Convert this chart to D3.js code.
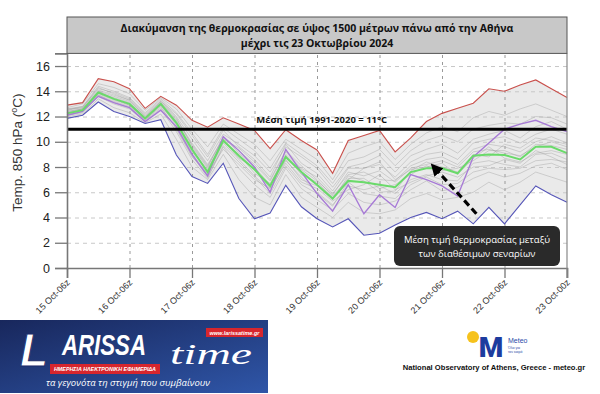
<!DOCTYPE html>
<html>
<head>
<meta charset="utf-8">
<script src="https://cdnjs.cloudflare.com/ajax/libs/d3/7.8.5/d3.min.js"></script>
<style>
body { margin: 0; background: #fff; }
svg { display: block; font-family: "Liberation Sans", Arial, sans-serif; }
</style>
</head>
<body>
<div id="chart"></div>
<script>
// 6-hourly steps, 15 Oct 06z .. 23 Oct 00z
var xLabels = ["15 Oct-06z", "16 Oct-06z", "17 Oct-06z", "18 Oct-06z", "19 Oct-06z",
               "20 Oct-06z", "21 Oct-06z", "22 Oct-06z", "23 Oct-00z"];
var xTicks = [0, 4, 8, 12, 16, 20, 24, 28, 32];
var yTicks = [0, 2, 4, 6, 8, 10, 12, 14, 16];

var maxTemp  = [12.9,13.1,15.0,14.75,14.2,12.65,13.6,12.9,11.7,11.15,11.9,11.4,10.9,9.45,10.95,10.1,9.35,7.5,10.1,10.5,10.9,9.2,10.3,11.6,12.25,12.65,13.05,14.2,14.0,14.5,14.9,14.2,13.5];
var minTemp  = [11.85,12.1,13.15,12.4,12.0,11.45,11.75,8.95,7.25,6.7,8.3,5.5,3.9,4.35,6.55,4.85,3.9,3.25,3.9,2.6,2.75,3.4,4.0,4.4,3.9,4.5,3.5,4.8,3.5,5.0,6.5,5.8,5.2];
var meanTemp = [12.25,12.5,13.9,13.4,13.0,11.85,13.0,11.5,9.4,7.6,10.1,8.9,7.8,6.5,8.8,7.6,6.6,5.5,6.9,6.8,6.6,6.4,7.6,7.9,7.9,7.5,8.9,9.0,8.95,8.6,9.6,9.6,9.1];
var mainRun  = [12.1,12.4,13.6,13.1,12.7,11.6,12.5,11.2,9.0,7.3,10.4,9.3,8.0,6.0,9.4,7.6,5.9,4.5,6.6,4.3,5.8,4.8,7.4,7.0,6.5,5.7,8.8,9.9,11.0,11.4,11.7,11.2,10.8];

var members = [
  [12.5,12.8,14.2,13.9,13.4,12.2,13.3,12.0,10.2,8.5,10.6,9.8,8.9,7.6,9.6,8.8,7.9,6.4,8.0,8.3,8.9,7.6,8.9,9.4,9.8,9.1,10.2,10.6,10.9,10.3,11.2,11.6,11.0],
  [12.1,12.3,13.6,13.0,12.6,11.6,12.6,10.8,8.6,7.1,9.6,7.9,6.6,5.6,7.9,6.3,5.4,4.6,5.9,5.2,5.0,5.3,6.2,6.9,6.1,6.4,7.1,7.6,7.2,7.5,8.1,8.3,7.8],
  [12.4,12.6,14.0,13.6,13.2,12.0,13.1,11.8,9.9,8.2,10.3,9.3,8.2,6.9,9.2,7.9,7.2,5.9,7.4,7.6,7.0,6.9,8.1,8.6,8.8,8.2,9.4,9.8,9.6,9.2,10.0,10.4,9.9],
  [12.2,12.4,13.8,13.3,12.9,11.7,12.9,11.3,9.1,7.4,9.9,8.6,7.3,6.1,8.5,7.2,6.0,5.0,6.5,6.2,6.5,5.9,7.0,7.4,7.0,6.9,8.3,8.5,8.2,8.0,9.0,9.1,8.6],
  [12.7,13.0,14.6,14.3,13.8,12.5,13.5,12.6,11.0,9.6,11.4,10.6,9.8,8.5,10.2,9.4,8.6,7.0,9.1,9.6,10.0,8.6,9.8,10.7,11.2,10.8,11.9,12.4,12.1,12.6,13.0,12.5,12.0],
  [12.3,12.5,13.9,13.5,13.1,11.9,13.0,11.6,9.6,7.9,10.0,9.0,7.5,6.7,8.9,7.4,6.8,5.6,7.1,7.1,6.3,6.6,7.4,8.1,7.7,7.9,8.5,9.3,9.3,8.8,9.8,9.7,9.4],
  [12.0,12.2,13.4,12.7,12.3,11.5,12.2,10.2,8.0,7.0,9.0,7.0,5.6,5.0,7.4,5.6,4.8,4.0,5.2,4.4,4.3,4.6,5.5,5.9,5.4,5.6,6.0,6.8,6.2,6.8,7.6,7.2,6.8],
  [12.6,12.7,14.3,13.8,13.3,12.1,13.2,12.2,10.5,8.8,10.9,9.6,8.6,7.2,9.8,8.3,7.5,6.1,7.9,7.9,8.2,7.2,8.4,9.0,9.2,8.6,9.9,10.2,10.4,9.9,10.6,11.0,10.6],
  [12.2,12.5,13.7,13.2,12.8,11.8,12.8,11.0,8.8,7.5,9.4,8.2,7.0,6.3,8.3,6.8,6.3,5.3,6.2,6.6,7.4,6.2,6.8,7.3,7.6,7.2,8.0,8.1,8.6,8.3,9.3,8.8,8.2],
  [12.5,12.7,14.1,13.7,13.3,12.0,13.2,11.9,9.7,8.0,10.4,9.1,8.0,6.6,9.0,7.8,6.9,5.8,7.6,7.3,7.7,6.8,7.9,8.2,8.5,8.0,9.2,9.4,9.1,8.9,9.6,10.0,9.6],
  [12.4,12.6,13.9,13.4,13.0,11.9,12.9,11.4,9.2,7.8,10.1,8.7,7.9,6.3,8.6,7.0,6.5,5.4,7.3,6.9,6.0,6.1,7.7,8.4,8.0,7.6,9.0,8.8,9.8,9.5,10.3,10.1,9.8],
  [12.3,12.6,14.0,13.4,12.9,11.8,13.1,11.7,9.8,8.1,10.2,9.5,8.4,7.0,9.3,8.1,7.0,5.7,7.0,7.9,8.4,7.0,7.8,8.0,8.3,7.4,8.7,9.6,8.7,8.4,9.1,9.3,9.0],
  [12.1,12.4,13.7,13.1,12.7,11.7,12.7,11.1,8.9,7.2,9.7,8.4,7.2,5.9,8.1,6.6,5.9,4.9,6.8,5.9,5.7,5.5,6.6,7.2,6.6,6.7,7.6,7.9,7.8,7.9,8.5,8.6,8.4],
  [12.6,12.8,14.4,14.0,13.5,12.3,13.4,12.3,10.7,9.0,11.1,10.2,9.3,7.9,9.9,9.0,8.1,6.7,8.5,8.8,9.4,8.1,9.3,10.1,10.5,10.0,11.0,11.3,11.5,11.4,12.0,11.9,11.4]
];

var climateMean = 11;
var arrowFrom = [26.2, 4.3];   // data units: tail (box top) and tip (near mean line)
var arrowTo   = [23.7, 7.7];

var width  = 600;
var height = 394;
var margin = { top: 53.4, bottom: 126, left: 67, right: 33 };
var plotW = width - margin.left - margin.right;
var plotH = height - margin.top - margin.bottom;

var svg = d3.select('#chart')
    .append('svg')
        .attr('width', width)
        .attr('height', height);

var defs = svg.append('defs');

var g = svg.append('g')
    .attr('transform', 'translate(' + margin.left + ',' + margin.top + ')');

var xScale = d3.scaleLinear()
    .domain([0, maxTemp.length - 1])
    .range([0, plotW]);

var yScale = d3.scaleLinear()
    .domain([0, 17])
    .range([plotH, 0]);

var idx = d3.range(maxTemp.length);

// spread between coldest and warmest scenario
g.append('path')
    .datum(idx)
    .attr('fill', '#e6e6e6')
    .attr('fill-opacity', 0.85)
    .attr('d', d3.area()
        .x(function(i){ return xScale(i); })
        .y0(function(i){ return yScale(minTemp[i]); })
        .y1(function(i){ return yScale(maxTemp[i]); })
    );

// grid
g.append('g')
    .attr('class', 'grid')
    .call(d3.axisLeft(yScale).tickValues(yTicks.slice(1)).tickSize(-plotW).tickFormat(''))
    .call(function(s){
        s.select('.domain').remove();
        s.selectAll('line').attr('stroke', '#c8c8c8').attr('stroke-dasharray', '4,4');
    });

g.append('g')
    .attr('class', 'grid')
    .attr('transform', 'translate(0,' + plotH + ')')
    .call(d3.axisBottom(xScale).tickValues(xTicks.slice(1, -1)).tickSize(-plotH).tickFormat(''))
    .call(function(s){
        s.select('.domain').remove();
        s.selectAll('line').attr('stroke', '#9a9a9a').attr('stroke-dasharray', '3,4');
    });

var line = d3.line()
    .x(function(d, i){ return xScale(i); })
    .y(function(d){ return yScale(d); });

// ensemble members
g.selectAll('.member')
    .data(members)
    .enter()
    .append('path')
        .attr('class', 'member')
        .attr('fill', 'none')
        .attr('stroke', '#9b9b9b')
        .attr('stroke-opacity', 0.65)
        .attr('stroke-width', 0.6)
        .attr('d', line);

g.append('path').datum(maxTemp)
    .attr('fill', 'none').attr('stroke', '#c9504c').attr('stroke-width', 1.1).attr('d', line);
g.append('path').datum(minTemp)
    .attr('fill', 'none').attr('stroke', '#5656b8').attr('stroke-width', 1.1).attr('d', line);
g.append('path').datum(mainRun)
    .attr('fill', 'none').attr('stroke', '#a77ad6').attr('stroke-width', 1.3).attr('d', line);
g.append('path').datum(meanTemp)
    .attr('fill', 'none').attr('stroke', '#6ada6a').attr('stroke-width', 2).attr('d', line);

// 1991-2020 climatology
g.append('line')
    .attr('x1', 0).attr('x2', plotW)
    .attr('y1', yScale(climateMean)).attr('y2', yScale(climateMean))
    .attr('stroke', '#000').attr('stroke-width', 3);

g.append('text')
    .attr('x', xScale(16.3))
    .attr('y', yScale(climateMean) - 6)
    .attr('text-anchor', 'middle')
    .style('font-family', '"Open Sans", sans-serif')
    .style('font-weight', 'bold')
    .style('font-size', '9.5px')
    .attr('fill', '#111')
    .text('Μέση τιμή 1991-2020 = 11°C');

// axes
var yAxis = d3.axisLeft(yScale).tickValues(yTicks).tickSize(12).tickPadding(5);
g.append('g')
    .attr('class', 'y axis')
    .call(yAxis)
    .call(function(s){
        s.select('.domain').attr('stroke', '#777').attr('stroke-width', 1.6);
        s.selectAll('line').attr('stroke', '#777').attr('stroke-width', 1.3);
        s.selectAll('text').style('font-size', '12.5px').attr('fill', '#222');
    });

var xAxis = d3.axisBottom(xScale).tickValues(xTicks).tickSize(10)
    .tickFormat(function(d, i){ return xLabels[i]; });
g.append('g')
    .attr('class', 'x axis')
    .attr('transform', 'translate(0,' + plotH + ')')
    .call(xAxis)
    .call(function(s){
        s.select('.domain').attr('stroke', '#777').attr('stroke-width', 1.6);
        s.selectAll('line').attr('stroke', '#777').attr('stroke-width', 1.3);
        s.selectAll('text')
            .attr('y', 0).attr('dy', 0)
            .attr('text-anchor', 'end')
            .attr('transform', 'translate(3,15) rotate(-45)')
            .style('font-size', '9px')
            .attr('fill', '#333');
    });

// right frame
g.append('line')
    .attr('x1', plotW).attr('x2', plotW).attr('y1', 0).attr('y2', plotH + 10)
    .attr('stroke', '#888').attr('stroke-width', 1.2);

// y axis label
svg.append('text')
    .attr('transform', 'translate(22,' + (margin.top + plotH / 2 - 8) + ') rotate(-90)')
    .attr('text-anchor', 'middle')
    .style('font-size', '13.5px')
    .attr('fill', '#333')
    .text('Temp. 850 hPa (')
    .append('tspan').attr('dy', -5).style('font-size', '9px').text('o')
    .select(function(){ return this.parentNode; })
    .append('tspan').attr('dy', 5).text('C)');

// title box
svg.append('rect')
    .attr('x', margin.left).attr('y', 17)
    .attr('width', plotW).attr('height', margin.top - 17)
    .attr('fill', '#c8c8c8')
    .attr('stroke', '#555').attr('stroke-width', 1);

var title = svg.append('text')
    .attr('x', margin.left + plotW / 2)
    .attr('text-anchor', 'middle')
    .style('font-family', '"Open Sans", sans-serif')
    .style('font-weight', 'bold')
    .style('font-size', '10.5px')
    .attr('fill', '#111');
title.append('tspan').attr('x', margin.left + plotW / 2).attr('y', 32)
    .text('Διακύμανση της θερμοκρασίας σε ύψος 1500 μέτρων πάνω από την Αθήνα');
title.append('tspan').attr('x', margin.left + plotW / 2).attr('y', 47)
    .text('μέχρι τις 23 Οκτωβρίου 2024');

// annotation box + arrow
var boxX = 394, boxY = 226, boxW = 166, boxH = 40;
svg.append('rect')
    .attr('x', boxX).attr('y', boxY).attr('width', boxW).attr('height', boxH)
    .attr('rx', 6)
    .attr('fill', '#2a2a2a');
var note = svg.append('text')
    .attr('text-anchor', 'middle')
    .style('font-family', '"Open Sans", sans-serif')
    .style('font-size', '9.5px')
    .attr('fill', '#fff');
note.append('tspan').attr('x', boxX + boxW / 2).attr('y', boxY + 17).text('Μέση τιμή θερμοκρασίας μεταξύ');
note.append('tspan').attr('x', boxX + boxW / 2).attr('y', boxY + 31).text('των διαθέσιμων σεναρίων');

defs.append('marker')
    .attr('id', 'head')
    .attr('viewBox', '0 0 10 10')
    .attr('refX', 2).attr('refY', 5)
    .attr('markerWidth', 3.8).attr('markerHeight', 3.8)
    .attr('orient', 'auto')
    .append('path').attr('d', 'M0,0 L10,5 L0,10 z').attr('fill', '#000');

g.append('line')
    .attr('x1', xScale(arrowFrom[0])).attr('y1', yScale(arrowFrom[1]))
    .attr('x2', xScale(arrowTo[0])).attr('y2', yScale(arrowTo[1]))
    .attr('stroke', '#000').attr('stroke-width', 3.2)
    .attr('stroke-dasharray', '7,4')
    .attr('marker-end', 'url(#head)');

// LARISSA time banner
var grad = defs.append('linearGradient')
    .attr('id', 'banner').attr('x1', 0).attr('y1', 0).attr('x2', 1).attr('y2', 1);
grad.append('stop').attr('offset', '0%').attr('stop-color', '#18275c');
grad.append('stop').attr('offset', '100%').attr('stop-color', '#2f56a8');

var logo = svg.append('g').attr('transform', 'translate(0,320)');
logo.append('rect').attr('width', 268).attr('height', 73).attr('fill', 'url(#banner)');
logo.append('text')
    .attr('x', 20).attr('y', 46)
    .style('font-weight', 'bold').style('font-style', 'italic')
    .style('font-size', '46px')
    .attr('fill', '#fff').attr('stroke', '#1b2d6a').attr('stroke-width', 1)
    .text('L');
logo.append('text')
    .attr('x', 62).attr('y', 35)
    .attr('textLength', 84).attr('lengthAdjust', 'spacingAndGlyphs')
    .style('font-weight', 'bold').style('font-style', 'italic')
    .style('font-size', '30px')
    .attr('fill', '#fff')
    .text('ARISSA');
logo.append('text')
    .attr('x', 170).attr('y', 44)
    .attr('textLength', 82).attr('lengthAdjust', 'spacingAndGlyphs')
    .style('font-family', '"Liberation Serif", serif')
    .style('font-style', 'italic')
    .style('font-size', '30px')
    .attr('fill', '#fff')
    .text('time');
logo.append('rect').attr('x', 50).attr('y', 44).attr('width', 110).attr('height', 10).attr('fill', '#d7262d');
logo.append('text')
    .attr('x', 105).attr('y', 51.3).attr('text-anchor', 'middle')
    .attr('textLength', 102).attr('lengthAdjust', 'spacingAndGlyphs')
    .style('font-weight', 'bold').style('font-style', 'italic').style('font-size', '5.5px')
    .attr('fill', '#fff')
    .text('ΗΜΕΡΗΣΙΑ ΗΛΕΚΤΡΟΝΙΚΗ ΕΦΗΜΕΡΙΔΑ');
logo.append('rect').attr('x', 206).attr('y', 8).attr('width', 57).attr('height', 9).attr('fill', '#d7262d');
logo.append('text')
    .attr('x', 234.5).attr('y', 14.5).attr('text-anchor', 'middle')
    .style('font-weight', 'bold').style('font-style', 'italic').style('font-size', '5.5px')
    .attr('fill', '#fff')
    .text('www.larissatime.gr');
logo.append('text')
    .attr('x', 128).attr('y', 66).attr('text-anchor', 'middle')
    .style('font-family', '"Open Sans", sans-serif')
    .style('font-style', 'italic').style('font-size', '9.5px')
    .attr('fill', '#fff')
    .text('τα γεγονότα τη στιγμή που συμβαίνουν');

// Meteo logo
var meteo = svg.append('g');
meteo.append('circle').attr('cx', 473).attr('cy', 337).attr('r', 6).attr('fill', '#f6c21c');
meteo.append('text')
    .attr('x', 491).attr('y', 357).attr('text-anchor', 'middle')
    .style('font-family', 'Roboto, sans-serif').style('font-weight', 900).style('font-size', '28px')
    .attr('fill', '#1d3c9e')
    .text('M');
meteo.append('text')
    .attr('x', 508).attr('y', 343)
    .style('font-size', '7px').attr('fill', '#2a4aa8')
    .text('Meteo');
meteo.append('text')
    .attr('x', 508).attr('y', 348.5)
    .style('font-size', '3.5px').attr('fill', '#2a4aa8')
    .text('Όλα για');
meteo.append('text')
    .attr('x', 508).attr('y', 352.5)
    .style('font-size', '3.5px').attr('fill', '#2a4aa8')
    .text('τον καιρό');
meteo.append('text')
    .attr('x', 494).attr('y', 370).attr('text-anchor', 'middle')
    .style('font-weight', 'bold').style('font-size', '7.6px')
    .attr('fill', '#111')
    .text('National Observatory of Athens, Greece - meteo.gr');
</script>
</body>
</html>
